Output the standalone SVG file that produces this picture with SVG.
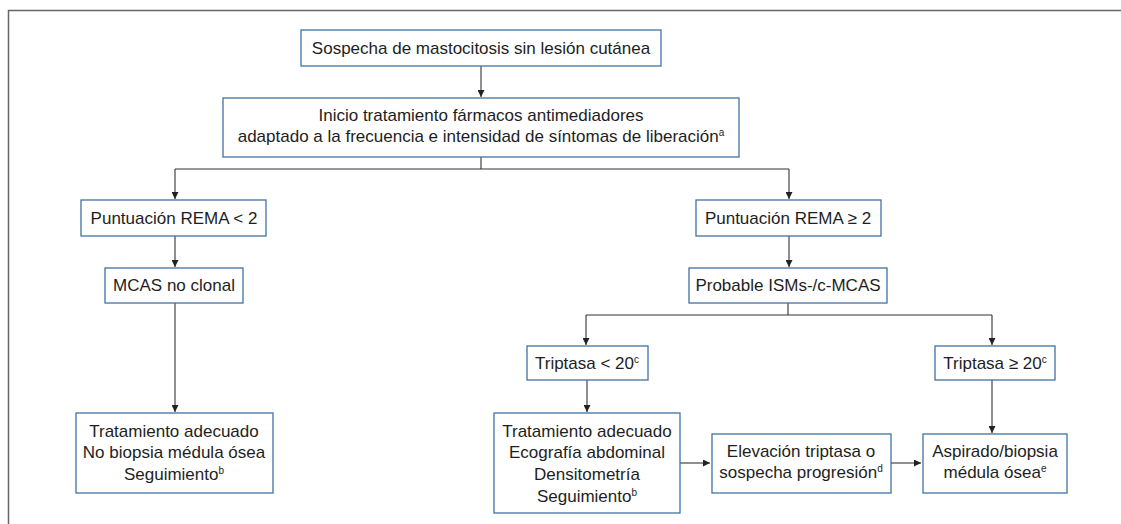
<svg xmlns="http://www.w3.org/2000/svg" width="1121" height="524" viewBox="0 0 1121 524">
<style>
.box{fill:#fff;stroke:#3f72a3;stroke-width:1.3}
.t{font-family:"Liberation Sans",Arial,sans-serif;font-size:17px;fill:#1e1e1e;text-anchor:middle}
.c{fill:none;stroke:#333;stroke-width:1.1}
.sup{font-size:10px}
</style>
<defs>
<marker id="ah" viewBox="0 0 8 8" refX="8" refY="4" markerWidth="7" markerHeight="7" markerUnits="userSpaceOnUse" orient="auto">
<path d="M0,0 L8,4 L0,8 z" fill="#222"/>
</marker>
</defs>
<rect width="1121" height="524" fill="#fff"/>
<g id="frame"><path d="M8.5,524 V10.5 H1121" fill="none" stroke="#666" stroke-width="1.5"/></g>
<g id="connectors">
<path class="c" d="M481,66 V97" marker-end="url(#ah)"/>
<path class="c" d="M481,157 V169 M175,169 H789"/>
<path class="c" d="M175,169 V199" marker-end="url(#ah)"/>
<path class="c" d="M789,169 V199" marker-end="url(#ah)"/>
<path class="c" d="M175,236 V267" marker-end="url(#ah)"/>
<path class="c" d="M789,236 V267" marker-end="url(#ah)"/>
<path class="c" d="M175,303 V412" marker-end="url(#ah)"/>
<path class="c" d="M788,303 V315 M586,315 H992"/>
<path class="c" d="M586,315 V345" marker-end="url(#ah)"/>
<path class="c" d="M992,315 V345" marker-end="url(#ah)"/>
<path class="c" d="M587,380 V412" marker-end="url(#ah)"/>
<path class="c" d="M992,380 V433" marker-end="url(#ah)"/>
<path class="c" d="M680,463 H710" marker-end="url(#ah)"/>
<path class="c" d="M891,463 H921" marker-end="url(#ah)"/>
</g>
<g id="n1"><rect class="box" x="301" y="30" width="360" height="36"/><text class="t" x="481" y="54">Sospecha de mastocitosis sin lesión cutánea</text></g>
<g id="n2"><rect class="box" x="223" y="98" width="516" height="59"/><text class="t" x="481" y="121">Inicio tratamiento fármacos antimediadores</text><text class="t" x="481" y="142">adaptado a la frecuencia e intensidad de síntomas de liberación<tspan class="sup" dy="-6">a</tspan></text></g>
<g id="n3"><rect class="box" x="81" y="200" width="185" height="36"/><text class="t" x="174" y="224">Puntuación REMA &lt; 2</text></g>
<g id="n4"><rect class="box" x="696" y="200" width="185" height="36"/><text class="t" x="788" y="224">Puntuación REMA ≥ 2</text></g>
<g id="n5"><rect class="box" x="105" y="268" width="138" height="35"/><text class="t" x="174" y="291">MCAS no clonal</text></g>
<g id="n6"><rect class="box" x="689" y="268" width="198" height="35"/><text class="t" x="788" y="291">Probable ISMs-/c-MCAS</text></g>
<g id="n7"><rect class="box" x="76" y="413" width="197" height="80"/><text class="t" x="174" y="437">Tratamiento adecuado</text><text class="t" x="174" y="458">No biopsia médula ósea</text><text class="t" x="174" y="480">Seguimiento<tspan class="sup" dy="-6">b</tspan></text></g>
<g id="n8"><rect class="box" x="527" y="346" width="121" height="34"/><text class="t" x="587" y="369">Triptasa &lt; 20<tspan class="sup" dy="-6">c</tspan></text></g>
<g id="n9"><rect class="box" x="935" y="346" width="120" height="34"/><text class="t" x="995" y="369">Triptasa ≥ 20<tspan class="sup" dy="-6">c</tspan></text></g>
<g id="n10"><rect class="box" x="494" y="413" width="186" height="100"/><text class="t" x="587" y="437">Tratamiento adecuado</text><text class="t" x="587" y="458">Ecografía abdominal</text><text class="t" x="587" y="480">Densitometría</text><text class="t" x="587" y="502">Seguimiento<tspan class="sup" dy="-6">b</tspan></text></g>
<g id="n11"><rect class="box" x="712" y="434" width="179" height="59"/><text class="t" x="801" y="457">Elevación triptasa o</text><text class="t" x="801" y="478">sospecha progresión<tspan class="sup" dy="-6">d</tspan></text></g>
<g id="n12"><rect class="box" x="923" y="434" width="144" height="59"/><text class="t" x="995" y="457">Aspirado/biopsia</text><text class="t" x="995" y="478">médula ósea<tspan class="sup" dy="-6">e</tspan></text></g>
</svg>
